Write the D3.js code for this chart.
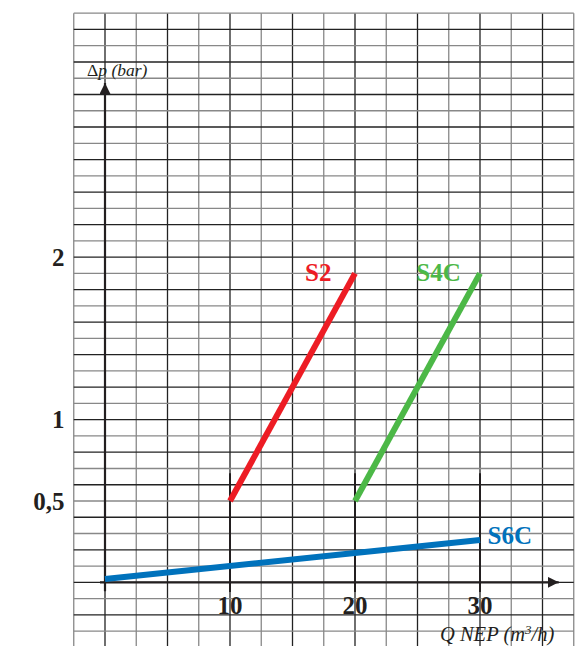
<!DOCTYPE html>
<html lang="fr">
<head>
<meta charset="utf-8">
<title>Perte de charge</title>
<script src="https://cdn.jsdelivr.net/npm/d3@7"></script>
<style>
  body { margin: 0; background: #fff; }
  text { font-family: "Liberation Serif", "Times New Roman", serif; }
  .tick-label { font-weight: bold; font-size: 25px; fill: #231f20; }
  .axis-title { font-style: italic; fill: #231f20; }
  .series-label { font-weight: bold; font-size: 25px; }
</style>
</head>
<body>
<script>
// values (Q in m3/h, dp in bar)
var seriesNames = ["S2", "S4C", "S6C"];
var seriesColors = ["#ed1c24", "#4cb847", "#0072bc"];
var seriesQ = [[10, 20], [20, 30], [0, 30]];
var seriesDp = [[0.5, 1.9], [0.5, 1.9], [0.02, 0.26]];

var xTicks = [10, 20, 30];
var yTicks = [0.5, 1, 2];

var w = 582, h = 646;

var svg = d3.select("body").append("svg")
  .attr("width", w)
  .attr("height", h);

// 1 grid column = 2.5 m3/h, 1 grid row = 0.1 bar
var x = d3.scaleLinear().domain([0, 10]).range([105, 230]);
var y = d3.scaleLinear().domain([0, 1]).range([582.3, 419.7]);

// graph paper
var cols = d3.range(-2.5, 37.51, 2.5);
var rows = d3.range(-0.4, 3.501, 0.1);

var grid = svg.append("g").attr("class", "grid");
grid.selectAll("line.v")
  .data(cols)
  .enter().append("line")
  .attr("class", "v")
  .attr("x1", function(d) { return x(d); })
  .attr("x2", function(d) { return x(d); })
  .attr("y1", y(3.5))
  .attr("y2", h)
  .attr("stroke", function(d, i) { return i % 2 ? "#222" : "#888"; })
  .attr("stroke-width", 1.3);

grid.selectAll("line.h")
  .data(rows)
  .enter().append("line")
  .attr("class", "h")
  .attr("x1", x(-2.5))
  .attr("x2", x(37.5))
  .attr("y1", function(d) { return y(d); })
  .attr("y2", function(d) { return y(d); })
  .attr("stroke", function(d, i) { return i % 2 ? "#888" : "#222"; })
  .attr("stroke-width", 1.3);

// tick markers above 10, 20, 30
svg.selectAll("line.mark")
  .data(xTicks)
  .enter().append("line")
  .attr("class", "mark")
  .attr("x1", function(d) { return x(d); })
  .attr("x2", function(d) { return x(d); })
  .attr("y1", y(0.67))
  .attr("y2", y(-0.06))
  .attr("stroke", "#231f20")
  .attr("stroke-width", 2);

// axes with arrows
svg.append("defs").append("marker")
  .attr("id", "arrow")
  .attr("viewBox", "0 0 10 10")
  .attr("refX", 10)
  .attr("refY", 5)
  .attr("markerWidth", 5)
  .attr("markerHeight", 5)
  .attr("markerUnits", "strokeWidth")
  .attr("orient", "auto")
  .append("path")
  .attr("d", "M0,0L10,5L0,10z")
  .attr("fill", "#231f20");

svg.append("line")
  .attr("x1", x(-0.4)).attr("x2", x(36.3))
  .attr("y1", y(0)).attr("y2", y(0))
  .attr("stroke", "#231f20")
  .attr("stroke-width", 2.2)
  .attr("marker-end", "url(#arrow)");

svg.append("line")
  .attr("x1", x(0)).attr("x2", x(0))
  .attr("y1", y(-0.055)).attr("y2", y(3.07))
  .attr("stroke", "#231f20")
  .attr("stroke-width", 2.2)
  .attr("marker-end", "url(#arrow)");

// tick labels
svg.selectAll("text.xl")
  .data(xTicks)
  .enter().append("text")
  .attr("class", "tick-label xl")
  .attr("x", function(d) { return x(d); })
  .attr("y", y(-0.198))
  .attr("text-anchor", "middle")
  .text(function(d) { return d; });

svg.selectAll("text.yl")
  .data(yTicks)
  .enter().append("text")
  .attr("class", "tick-label yl")
  .attr("x", 64.5)
  .attr("y", function(d) { return y(d) + 8.5; })
  .attr("text-anchor", "end")
  .text(function(d) { return String(d).replace(".", ","); });

// axis titles
var yt = svg.append("text")
  .attr("class", "axis-title")
  .style("font-size", "17.5px")
  .attr("x", 87)
  .attr("y", 76);
yt.append("tspan").style("font-style", "normal").text("\u0394");
yt.append("tspan").text("p (bar)");

var xt = svg.append("text")
  .attr("class", "axis-title")
  .style("font-size", "20.5px")
  .attr("x", 440)
  .attr("y", 641);
xt.append("tspan").text("Q NEP (m");
xt.append("tspan").attr("dy", -7).style("font-size", "13px").text("3");
xt.append("tspan").attr("dy", 7).text("/h)");

// series
var line = d3.line()
  .x(function(d) { return x(d[0]); })
  .y(function(d) { return y(d[1]); });

var series = seriesNames.map(function(name, i) {
  return {
    name: name,
    color: seriesColors[i],
    points: seriesQ[i].map(function(q, j) { return [q, seriesDp[i][j]]; })
  };
});

svg.selectAll("path.series")
  .data(series)
  .enter().append("path")
  .attr("class", "series")
  .attr("d", function(d) { return line(d.points); })
  .attr("fill", "none")
  .attr("stroke", function(d) { return d.color; })
  .attr("stroke-width", 6);

// series labels
var labelPos = [[16.0, 1.855], [24.9, 1.855], [30.6, 0.235]];
svg.selectAll("text.series-label")
  .data(series)
  .enter().append("text")
  .attr("class", "series-label")
  .attr("x", function(d, i) { return x(labelPos[i][0]); })
  .attr("y", function(d, i) { return y(labelPos[i][1]); })
  .attr("fill", function(d) { return d.color; })
  .text(function(d) { return d.name; });
</script>
</body>
</html>
